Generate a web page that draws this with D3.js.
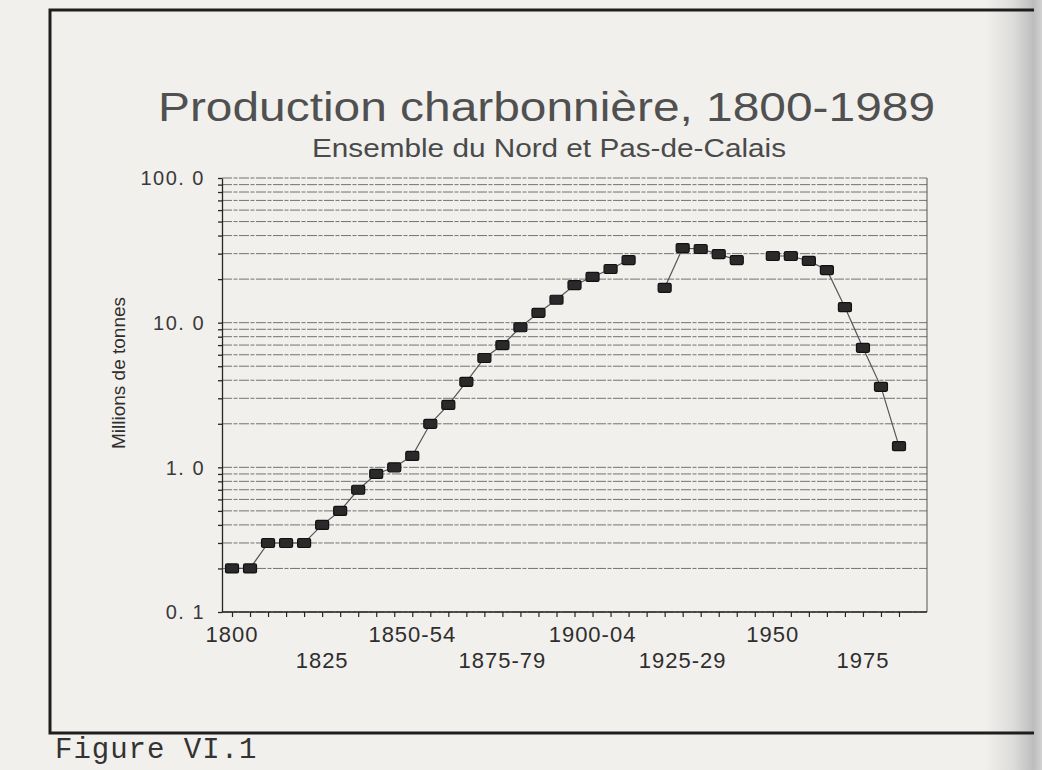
<!DOCTYPE html>
<html>
<head>
<meta charset="utf-8">
<script src="https://cdn.jsdelivr.net/npm/d3@7"></script>
<style>
body{margin:0;background:#f1f0ed;}
svg{display:block;}
</style>
</head>
<body>
<svg id="svg"></svg>
<script>
// periodes de 5 ans, 1800-1989
var periods = ["1800-04","1805-09","1810-14","1815-19","1820-24","1825-29","1830-34","1835-39",
  "1840-44","1845-49","1850-54","1855-59","1860-64","1865-69","1870-74","1875-79","1880-84",
  "1885-89","1890-94","1895-99","1900-04","1905-09","1910-14","1915-19","1920-24","1925-29",
  "1930-34","1935-39","1940-44","1945-49","1950-54","1955-59","1960-64","1965-69","1970-74",
  "1975-79","1980-84","1985-89"];
// millions de tonnes (null = pas de point)
var production = [0.2, 0.2, 0.3, 0.3, 0.3, 0.4, 0.5, 0.7, 0.9, 1.0, 1.2, 2.0, 2.7, 3.9, 5.7,
  7.0, 9.3, 11.7, 14.4, 18.2, 20.7, 23.5, 27.1, null, 17.4, 32.8, 32.3, 29.8, 27.1, null,
  28.9, 28.9, 26.7, 23.1, 12.8, 6.7, 3.6, 1.4];

var tickPeriods = ["1800-04","1825-29","1850-54","1875-79","1900-04","1925-29","1950-54","1975-79"];
var tickLabels = ["1800","1825","1850-54","1875-79","1900-04","1925-29","1950","1975"];
var yLabelValues = [100, 10, 1, 0.1];
var yLabels = ["100. 0","10. 0","1. 0","0. 1"];

var W = 1042, H = 770;
var plot = {left:222, right:927, top:178, bottom:612};
var ink = "#262626";

var svg = d3.select("#svg").attr("width",W).attr("height",H);

// papier + ombre de la reliure a droite
var defs = svg.append("defs");
var grad = defs.append("linearGradient").attr("id","edge")
  .attr("x1","0").attr("x2","1").attr("y1","0").attr("y2","0");
grad.append("stop").attr("offset","0%").attr("stop-color","#f1f0ed");
grad.append("stop").attr("offset","50%").attr("stop-color","#dcdcda");
grad.append("stop").attr("offset","85%").attr("stop-color","#bdbdbd");
grad.append("stop").attr("offset","100%").attr("stop-color","#d2d2d2");

svg.append("rect").attr("width",W).attr("height",H).attr("fill","#f1f0ed");
svg.append("rect").attr("x",985).attr("y",0).attr("width",W-985).attr("height",H)
  .attr("fill","url(#edge)");

// cadre
svg.append("path")
  .attr("d","M1034,10 H50 V733 H1034")
  .attr("fill","none")
  .attr("stroke","#1e1e1e")
  .attr("stroke-width",3);

var x = d3.scalePoint().domain(periods).range([232, 899]);
var y = d3.scaleLog().domain([0.1, 100]).range([plot.bottom, plot.top]);

// titres
svg.append("text")
  .attr("x",(158+935)/2).attr("y",121)
  .attr("text-anchor","middle")
  .attr("textLength",777).attr("lengthAdjust","spacingAndGlyphs")
  .style("font-family","Liberation Sans, Arial, sans-serif")
  .style("font-size","40px")
  .attr("fill","#505050")
  .text("Production charbonnière, 1800-1989");

svg.append("text")
  .attr("x",(312+786)/2).attr("y",157)
  .attr("text-anchor","middle")
  .attr("textLength",474).attr("lengthAdjust","spacingAndGlyphs")
  .style("font-family","Liberation Sans, Arial, sans-serif")
  .style("font-size","26px")
  .attr("fill","#4a4a4a")
  .text("Ensemble du Nord et Pas-de-Calais");

// grille log
var gridValues = y.ticks();
svg.append("g").selectAll("line")
  .data(gridValues)
  .join("line")
  .attr("x1",plot.left).attr("x2",plot.right)
  .attr("y1",function(d){ return y(d); })
  .attr("y2",function(d){ return y(d); })
  .attr("stroke","#5e5e5e")
  .attr("stroke-width",1)
  .attr("stroke-dasharray","10,1.5,4,1.5")
  .attr("opacity",0.85);

// axe gauche
var yAxis = svg.append("g")
  .attr("transform","translate("+plot.left+",0)")
  .call(d3.axisLeft(y).tickValues(gridValues).tickSize(4).tickSizeOuter(0).tickFormat(""));
yAxis.selectAll("path,line").attr("stroke",ink).attr("stroke-width",1.3);

svg.append("g").selectAll("text")
  .data(yLabelValues)
  .join("text")
  .attr("x",205)
  .attr("y",function(d){ return y(d); })
  .attr("dy","0.36em")
  .attr("text-anchor","end")
  .style("font-family","Liberation Sans, Arial, sans-serif")
  .style("font-size","20px")
  .style("letter-spacing","1.5px")
  .attr("fill","#3a3a3a")
  .text(function(d,i){ return yLabels[i]; });

svg.append("text")
  .attr("transform","translate(125,"+373+") rotate(-90)")
  .attr("text-anchor","middle")
  .style("font-family","Liberation Sans, Arial, sans-serif")
  .style("font-size","19px")
  .attr("fill","#2e2e2e")
  .text("Millions de tonnes");

// bord droit
svg.append("line")
  .attr("x1",plot.right).attr("x2",plot.right)
  .attr("y1",plot.top).attr("y2",plot.bottom)
  .attr("stroke","#555").attr("stroke-width",1);

// axe du bas
svg.append("line")
  .attr("x1",plot.left).attr("x2",plot.right)
  .attr("y1",plot.bottom).attr("y2",plot.bottom)
  .attr("stroke",ink).attr("stroke-width",1.3);

var xAxis = svg.append("g")
  .attr("transform","translate(0,"+plot.bottom+")")
  .call(d3.axisBottom(x).tickSize(5).tickFormat(""));
xAxis.select(".domain").remove();
xAxis.selectAll("line").attr("stroke",ink).attr("stroke-width",1.2);

svg.append("g").selectAll("text")
  .data(tickPeriods)
  .join("text")
  .attr("x",function(d){ return x(d); })
  .attr("y",function(d,i){ return i%2==0 ? 642 : 668; })
  .attr("text-anchor","middle")
  .style("font-family","Liberation Sans, Arial, sans-serif")
  .style("font-size","22px")
  .style("letter-spacing","1px")
  .attr("fill","#2e2e2e")
  .text(function(d,i){ return tickLabels[i]; });

// serie
var pts = periods.map(function(p,i){ return {p:p, v:production[i]}; });

var lineFunction = d3.line()
  .defined(function(d){ return d.v != null; })
  .x(function(d){ return x(d.p); })
  .y(function(d){ return y(d.v); });

svg.append("path")
  .attr("d",lineFunction(pts))
  .attr("fill","none")
  .attr("stroke","#555")
  .attr("stroke-width",1.2);

svg.append("g").selectAll("rect")
  .data(pts.filter(function(d){ return d.v != null; }))
  .join("rect")
  .attr("x",function(d){ return x(d.p)-6.5; })
  .attr("y",function(d){ return y(d.v)-4.5; })
  .attr("width",13).attr("height",9)
  .attr("rx",1.5)
  .attr("fill","#2a2a2a")
  .attr("stroke","#111")
  .attr("stroke-width",1.2);

// legende de la figure
svg.append("text")
  .attr("x",55).attr("y",758)
  .style("font-family","Liberation Mono, Courier New, monospace")
  .style("font-size","29px")
  .style("letter-spacing","1px")
  .attr("fill","#333")
  .text("Figure VI.1");
</script>
</body>
</html>
